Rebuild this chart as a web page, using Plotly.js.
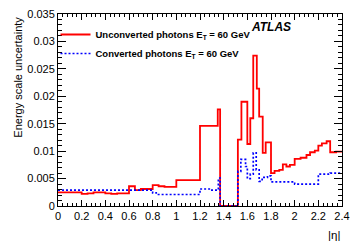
<!DOCTYPE html>
<html>
<head>
<meta charset="utf-8">
<script src="https://cdn.plot.ly/plotly-3.0.1.min.js"></script>
<style>html,body{margin:0;padding:0;background:#fff;}#chart{width:361px;height:246px;}</style>
</head>
<body>
<div id="chart"></div>
<script>
// Bin lower edges (|eta|) and uncertainty values
var unconvEdges = [0.0, 0.2, 0.25, 0.3, 0.4, 0.45, 0.5, 0.6, 0.65, 0.7, 0.8, 0.85, 0.9, 1.0, 1.2, 1.35, 1.37, 1.52, 1.55, 1.6, 1.625, 1.65, 1.68, 1.7, 1.73, 1.755, 1.8, 1.83, 1.87, 1.9, 1.93, 1.96, 2.0, 2.05, 2.1, 2.13, 2.17, 2.2, 2.23, 2.27, 2.3, 2.35, 2.4];
var unconvValues = [0.0025, 0.0022, 0.0023, 0.0025, 0.0023, 0.0022, 0.0023, 0.0036, 0.0029, 0.0031, 0.0038, 0.0036, 0.0035, 0.0047, 0.0146, 0.0176, 0.0, 0.0121, 0.0190, 0.0113, 0.0160, 0.0274, 0.0214, 0.0163, 0.0097, 0.0116, 0.0060, 0.0064, 0.0066, 0.0076, 0.0072, 0.0075, 0.0086, 0.0088, 0.0093, 0.0098, 0.0101, 0.0110, 0.0114, 0.0118, 0.0098, 0.0099, 0.0099];

var convEdges = [0.0, 0.8, 0.83, 1.0, 1.2, 1.3, 1.355, 1.37, 1.52, 1.545, 1.585, 1.6, 1.625, 1.65, 1.675, 1.7, 1.725, 1.77, 1.8, 2.0, 2.2, 2.3, 2.4];
var convValues = [0.0029, 0.0024, 0.0021, 0.0021, 0.0031, 0.0029, 0.0051, 0.0, 0.0063, 0.0085, 0.0072, 0.0050, 0.0058, 0.0097, 0.0066, 0.0045, 0.0052, 0.0055, 0.0044, 0.0040, 0.0058, 0.0060, 0.0060];

var seriesNames = ['Unconverted photons E<sub>T</sub> = 60 GeV', 'Converted photons E<sub>T</sub> = 60 GeV'];
var yTickVals = [0, 0.005, 0.01, 0.015, 0.02, 0.025, 0.03, 0.035];
var yTickText = ['0', '0.005', '0.01', '0.015', '0.02', '0.025', '0.03', '0.035'];
var xTickVals = [0, 0.2, 0.4, 0.6, 0.8, 1, 1.2, 1.4, 1.6, 1.8, 2, 2.2, 2.4];
var xTickText = ['0', '0.2', '0.4', '0.6', '0.8', '1', '1.2', '1.4', '1.6', '1.8', '2', '2.2', '2.4'];

var W = 361, H = 246;
var L = 57.5, R = 342.5, T = 13.5, B = 206;
function px(x) { return (x - L) / (R - L); }
function py(y) { return (B - y) / (B - T); }

var font = 'Liberation Sans, Arial, Helvetica, sans-serif';

var traces = [
  {x: unconvEdges, y: unconvValues, type: 'scatter', mode: 'lines', line: {shape: 'hv', color: '#ff0000', width: 1.8}, name: seriesNames[0]},
  {x: convEdges, y: convValues, type: 'scatter', mode: 'lines', line: {shape: 'hv', color: '#0000ff', width: 1.7, dash: '2px,2px'}, name: seriesNames[1]}
];

var axisCommon = {
  showline: true, linecolor: '#000', linewidth: 1, mirror: 'allticks',
  ticks: 'inside', tickcolor: '#000', tickwidth: 1,
  showgrid: false, zeroline: false,
  tickfont: {family: font, size: 11, color: '#000'}
};

var layout = {
  width: W, height: H,
  margin: {l: L, r: W - R, t: T, b: H - B, pad: 0},
  paper_bgcolor: '#fff', plot_bgcolor: '#fff',
  showlegend: true,
  legend: {x: px(55), y: py(19.5), xanchor: 'left', yanchor: 'top', bgcolor: 'rgba(0,0,0,0)', borderwidth: 0,
           font: {family: font, size: 9.5, color: '#000', weight: 'bold'}, itemwidth: 30, tracegroupgap: 0},
  xaxis: Object.assign({}, axisCommon, {range: [0, 2.4], tickmode: 'array', tickvals: xTickVals, ticktext: xTickText, ticklen: 6,
           minor: {dtick: 0.04, ticklen: 3, ticks: 'inside', tickcolor: '#000', showgrid: false}}),
  yaxis: Object.assign({}, axisCommon, {range: [0, 0.035], tickmode: 'array', tickvals: yTickVals, ticktext: yTickText, ticklen: 8,
           minor: {dtick: 0.001, ticklen: 4, ticks: 'inside', tickcolor: '#000', showgrid: false}}),
  annotations: [
    {text: 'Energy scale uncertainty', xref: 'paper', yref: 'paper', x: px(17), y: py(14), xanchor: 'center', yanchor: 'top',
     textangle: -90, showarrow: false, font: {family: font, size: 11, color: '#000'}},
    {text: '|η|', xref: 'paper', yref: 'paper', x: px(343), y: py(235.5), xanchor: 'right', yanchor: 'middle',
     showarrow: false, font: {family: font, size: 11.5, color: '#000'}},
    {text: '<b><i>ATLAS</i></b>', xref: 'paper', yref: 'paper', x: px(249), y: py(27), xanchor: 'left', yanchor: 'middle',
     showarrow: false, font: {family: font, size: 12, color: '#000'}}
  ]
};

Plotly.newPlot('chart', traces, layout, {displayModeBar: false, staticPlot: true});
</script>
</body>
</html>
